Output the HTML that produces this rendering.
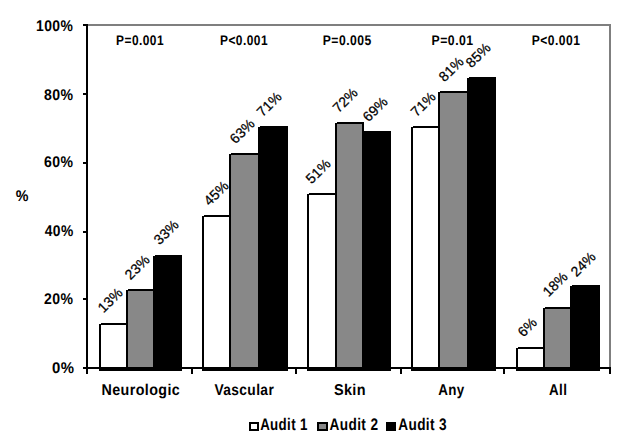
<!DOCTYPE html>
<html><head><meta charset="utf-8"><style>
html,body{margin:0;padding:0;background:#fff;}
body{width:625px;height:445px;position:relative;overflow:hidden;color:#000;}
</style></head><body>
<div style="position:absolute;left:86px;top:24px;width:525px;height:2px;background:#7f7f7f"></div>
<div style="position:absolute;left:609px;top:24px;width:2px;height:344px;background:#7f7f7f"></div>
<div style="position:absolute;left:99px;top:323px;width:29px;height:48px;box-sizing:border-box;border:2px solid #000;background:#ffffff"></div>
<div style="position:absolute;left:126px;top:289px;width:29px;height:82px;box-sizing:border-box;border:2px solid #000;background:#888888"></div>
<div style="position:absolute;left:153px;top:255px;width:29px;height:116px;box-sizing:border-box;border:2px solid #000;background:#000000"></div>
<div style="position:absolute;left:202px;top:215px;width:29px;height:156px;box-sizing:border-box;border:2px solid #000;background:#ffffff"></div>
<div style="position:absolute;left:229px;top:153px;width:31px;height:218px;box-sizing:border-box;border:2px solid #000;background:#888888"></div>
<div style="position:absolute;left:258px;top:126px;width:30px;height:245px;box-sizing:border-box;border:2px solid #000;background:#000000"></div>
<div style="position:absolute;left:307px;top:193px;width:30px;height:178px;box-sizing:border-box;border:2px solid #000;background:#ffffff"></div>
<div style="position:absolute;left:335px;top:122px;width:29px;height:249px;box-sizing:border-box;border:2px solid #000;background:#888888"></div>
<div style="position:absolute;left:362px;top:131px;width:29px;height:240px;box-sizing:border-box;border:2px solid #000;background:#000000"></div>
<div style="position:absolute;left:411px;top:126px;width:29px;height:245px;box-sizing:border-box;border:2px solid #000;background:#ffffff"></div>
<div style="position:absolute;left:438px;top:91px;width:31px;height:280px;box-sizing:border-box;border:2px solid #000;background:#888888"></div>
<div style="position:absolute;left:467px;top:77px;width:29px;height:294px;box-sizing:border-box;border:2px solid #000;background:#000000"></div>
<div style="position:absolute;left:516px;top:347px;width:29px;height:24px;box-sizing:border-box;border:2px solid #000;background:#ffffff"></div>
<div style="position:absolute;left:543px;top:307px;width:29px;height:64px;box-sizing:border-box;border:2px solid #000;background:#888888"></div>
<div style="position:absolute;left:570px;top:285px;width:30px;height:86px;box-sizing:border-box;border:2px solid #000;background:#000000"></div>
<div style="position:absolute;left:99px;top:323px;width:2px;height:1px;background:#fff"></div>
<div style="position:absolute;left:126px;top:289px;width:2px;height:1px;background:#fff"></div>
<div style="position:absolute;left:153px;top:255px;width:2px;height:1px;background:#fff"></div>
<div style="position:absolute;left:202px;top:215px;width:2px;height:1px;background:#fff"></div>
<div style="position:absolute;left:229px;top:153px;width:2px;height:1px;background:#fff"></div>
<div style="position:absolute;left:258px;top:126px;width:2px;height:1px;background:#fff"></div>
<div style="position:absolute;left:307px;top:193px;width:2px;height:1px;background:#fff"></div>
<div style="position:absolute;left:335px;top:122px;width:2px;height:1px;background:#fff"></div>
<div style="position:absolute;left:411px;top:126px;width:2px;height:1px;background:#fff"></div>
<div style="position:absolute;left:438px;top:91px;width:2px;height:1px;background:#fff"></div>
<div style="position:absolute;left:467px;top:77px;width:2px;height:1px;background:#fff"></div>
<div style="position:absolute;left:516px;top:347px;width:2px;height:1px;background:#fff"></div>
<div style="position:absolute;left:543px;top:307px;width:2px;height:1px;background:#fff"></div>
<div style="position:absolute;left:570px;top:285px;width:2px;height:1px;background:#fff"></div>
<div style="position:absolute;left:86px;top:24px;width:2px;height:345px;background:#000"></div>
<div style="position:absolute;left:86px;top:367px;width:525px;height:2px;background:#000"></div>
<div style="position:absolute;left:83px;top:24px;width:4px;height:2px;background:#000"></div>
<div style="position:absolute;left:83px;top:93px;width:4px;height:2px;background:#000"></div>
<div style="position:absolute;left:83px;top:162px;width:4px;height:2px;background:#000"></div>
<div style="position:absolute;left:83px;top:231px;width:4px;height:2px;background:#000"></div>
<div style="position:absolute;left:83px;top:298px;width:4px;height:2px;background:#000"></div>
<div style="position:absolute;left:83px;top:367px;width:4px;height:2px;background:#000"></div>
<div style="position:absolute;left:86px;top:367px;width:2px;height:7px;background:#000"></div>
<div style="position:absolute;left:191px;top:367px;width:2px;height:7px;background:#000"></div>
<div style="position:absolute;left:295px;top:367px;width:2px;height:7px;background:#000"></div>
<div style="position:absolute;left:400px;top:367px;width:2px;height:7px;background:#000"></div>
<div style="position:absolute;left:503px;top:367px;width:2px;height:7px;background:#000"></div>
<div style="position:absolute;left:609px;top:367px;width:2px;height:7px;background:#000"></div>
<div style="position:absolute;left:0;top:0;font-family:'Liberation Sans',sans-serif;font-weight:bold;font-size:14.1px;line-height:17px;white-space:pre;letter-spacing:0.4px;text-rendering:geometricPrecision;transform-origin:0 0;transform:matrix(0.9861,0,0,1.1000,36.01,16.70)">100%</div>
<div style="position:absolute;left:0;top:0;font-family:'Liberation Sans',sans-serif;font-weight:bold;font-size:14.1px;line-height:17px;white-space:pre;letter-spacing:0.4px;text-rendering:geometricPrecision;transform-origin:0 0;transform:matrix(1.0000,0,0,1.1000,44.00,85.70)">80%</div>
<div style="position:absolute;left:0;top:0;font-family:'Liberation Sans',sans-serif;font-weight:bold;font-size:14.1px;line-height:17px;white-space:pre;letter-spacing:0.4px;text-rendering:geometricPrecision;transform-origin:0 0;transform:matrix(0.9964,0,0,1.1000,44.10,152.70)">60%</div>
<div style="position:absolute;left:0;top:0;font-family:'Liberation Sans',sans-serif;font-weight:bold;font-size:14.1px;line-height:17px;white-space:pre;letter-spacing:0.4px;text-rendering:geometricPrecision;transform-origin:0 0;transform:matrix(0.9793,0,0,1.1000,44.80,221.70)">40%</div>
<div style="position:absolute;left:0;top:0;font-family:'Liberation Sans',sans-serif;font-weight:bold;font-size:14.1px;line-height:17px;white-space:pre;letter-spacing:0.4px;text-rendering:geometricPrecision;transform-origin:0 0;transform:matrix(0.9964,0,0,1.1000,44.10,289.70)">20%</div>
<div style="position:absolute;left:0;top:0;font-family:'Liberation Sans',sans-serif;font-weight:bold;font-size:14.1px;line-height:17px;white-space:pre;letter-spacing:0.4px;text-rendering:geometricPrecision;transform-origin:0 0;transform:matrix(1.0579,0,0,1.1000,52.04,358.70)">0%</div>
<div style="position:absolute;left:0;top:0;font-family:'Liberation Sans',sans-serif;font-weight:bold;font-size:14.1px;line-height:17px;white-space:pre;letter-spacing:0.4px;text-rendering:geometricPrecision;transform-origin:0 0;transform:matrix(1.0125,0,0,1.1000,15.85,186.70)">%</div>
<div style="position:absolute;left:0;top:0;font-family:'Liberation Sans',sans-serif;font-weight:bold;font-size:12.6px;line-height:15px;white-space:pre;letter-spacing:0.5px;text-rendering:geometricPrecision;transform-origin:0 0;transform:matrix(0.9449,0,0,1.1111,116.06,32.78)">P=0.001</div>
<div style="position:absolute;left:0;top:0;font-family:'Liberation Sans',sans-serif;font-weight:bold;font-size:12.6px;line-height:15px;white-space:pre;letter-spacing:0.5px;text-rendering:geometricPrecision;transform-origin:0 0;transform:matrix(0.9469,0,0,1.1111,219.95,32.78)">P&lt;0.001</div>
<div style="position:absolute;left:0;top:0;font-family:'Liberation Sans',sans-serif;font-weight:bold;font-size:12.6px;line-height:15px;white-space:pre;letter-spacing:0.5px;text-rendering:geometricPrecision;transform-origin:0 0;transform:matrix(0.9653,0,0,1.1111,322.73,32.78)">P=0.005</div>
<div style="position:absolute;left:0;top:0;font-family:'Liberation Sans',sans-serif;font-weight:bold;font-size:12.6px;line-height:15px;white-space:pre;letter-spacing:0.5px;text-rendering:geometricPrecision;transform-origin:0 0;transform:matrix(0.9732,0,0,1.1111,431.53,32.78)">P=0.01</div>
<div style="position:absolute;left:0;top:0;font-family:'Liberation Sans',sans-serif;font-weight:bold;font-size:12.6px;line-height:15px;white-space:pre;letter-spacing:0.5px;text-rendering:geometricPrecision;transform-origin:0 0;transform:matrix(0.9592,0,0,1.1111,531.64,32.78)">P&lt;0.001</div>
<div style="position:absolute;left:0;top:0;font-family:'Liberation Sans',sans-serif;font-weight:bold;font-size:14.2px;line-height:17px;white-space:pre;letter-spacing:0.4px;text-rendering:geometricPrecision;transform-origin:0 0;transform:matrix(1.0066,0,0,1.1000,101.49,381.80)">Neurologic</div>
<div style="position:absolute;left:0;top:0;font-family:'Liberation Sans',sans-serif;font-weight:bold;font-size:14.2px;line-height:17px;white-space:pre;letter-spacing:0.4px;text-rendering:geometricPrecision;transform-origin:0 0;transform:matrix(0.9705,0,0,1.1000,214.40,381.80)">Vascular</div>
<div style="position:absolute;left:0;top:0;font-family:'Liberation Sans',sans-serif;font-weight:bold;font-size:14.2px;line-height:17px;white-space:pre;letter-spacing:0.4px;text-rendering:geometricPrecision;transform-origin:0 0;transform:matrix(1.0172,0,0,1.1000,333.88,381.80)">Skin</div>
<div style="position:absolute;left:0;top:0;font-family:'Liberation Sans',sans-serif;font-weight:bold;font-size:14.2px;line-height:17px;white-space:pre;letter-spacing:0.4px;text-rendering:geometricPrecision;transform-origin:0 0;transform:matrix(0.9423,0,0,1.1000,438.26,381.80)">Any</div>
<div style="position:absolute;left:0;top:0;font-family:'Liberation Sans',sans-serif;font-weight:bold;font-size:14.2px;line-height:17px;white-space:pre;letter-spacing:0.4px;text-rendering:geometricPrecision;transform-origin:0 0;transform:matrix(0.9412,0,0,1.1000,549.06,381.80)">All</div>
<div style="position:absolute;left:0;top:0;font-family:'Liberation Sans',sans-serif;font-weight:bold;font-size:13.7px;line-height:16px;white-space:pre;letter-spacing:0.4px;text-rendering:geometricPrecision;transform-origin:0 0;transform:matrix(0.9708,0,0,1.2222,260.13,415.33)">Audit 1</div>
<div style="position:absolute;left:0;top:0;font-family:'Liberation Sans',sans-serif;font-weight:bold;font-size:13.7px;line-height:16px;white-space:pre;letter-spacing:0.4px;text-rendering:geometricPrecision;transform-origin:0 0;transform:matrix(0.9936,0,0,1.2222,329.51,415.33)">Audit 2</div>
<div style="position:absolute;left:0;top:0;font-family:'Liberation Sans',sans-serif;font-weight:bold;font-size:13.7px;line-height:16px;white-space:pre;letter-spacing:0.4px;text-rendering:geometricPrecision;transform-origin:0 0;transform:matrix(0.9936,0,0,1.2222,398.21,415.33)">Audit 3</div>
<div style="position:absolute;left:79.9px;top:290.4px;width:60px;height:20px;line-height:20px;text-align:center;font-family:'Liberation Sans',sans-serif;font-size:14.0px;transform:rotate(-45deg);white-space:nowrap;-webkit-text-stroke:0.25px #000">13%</div>
<div style="position:absolute;left:107.3px;top:257.4px;width:60px;height:20px;line-height:20px;text-align:center;font-family:'Liberation Sans',sans-serif;font-size:14.0px;transform:rotate(-45deg);white-space:nowrap;-webkit-text-stroke:0.25px #000">23%</div>
<div style="position:absolute;left:136.2px;top:222.1px;width:60px;height:20px;line-height:20px;text-align:center;font-family:'Liberation Sans',sans-serif;font-size:14.0px;transform:rotate(-45deg);white-space:nowrap;-webkit-text-stroke:0.25px #000">33%</div>
<div style="position:absolute;left:185.5px;top:182.5px;width:60px;height:20px;line-height:20px;text-align:center;font-family:'Liberation Sans',sans-serif;font-size:14.0px;transform:rotate(-45deg);white-space:nowrap;-webkit-text-stroke:0.25px #000">45%</div>
<div style="position:absolute;left:212.2px;top:121.0px;width:60px;height:20px;line-height:20px;text-align:center;font-family:'Liberation Sans',sans-serif;font-size:14.0px;transform:rotate(-45deg);white-space:nowrap;-webkit-text-stroke:0.25px #000">63%</div>
<div style="position:absolute;left:238.8px;top:93.5px;width:60px;height:20px;line-height:20px;text-align:center;font-family:'Liberation Sans',sans-serif;font-size:14.0px;transform:rotate(-45deg);white-space:nowrap;-webkit-text-stroke:0.25px #000">71%</div>
<div style="position:absolute;left:288.2px;top:160.9px;width:60px;height:20px;line-height:20px;text-align:center;font-family:'Liberation Sans',sans-serif;font-size:14.0px;transform:rotate(-45deg);white-space:nowrap;-webkit-text-stroke:0.25px #000">51%</div>
<div style="position:absolute;left:315.2px;top:89.9px;width:60px;height:20px;line-height:20px;text-align:center;font-family:'Liberation Sans',sans-serif;font-size:14.0px;transform:rotate(-45deg);white-space:nowrap;-webkit-text-stroke:0.25px #000">72%</div>
<div style="position:absolute;left:344.9px;top:98.9px;width:60px;height:20px;line-height:20px;text-align:center;font-family:'Liberation Sans',sans-serif;font-size:14.0px;transform:rotate(-45deg);white-space:nowrap;-webkit-text-stroke:0.25px #000">69%</div>
<div style="position:absolute;left:393.2px;top:93.6px;width:60px;height:20px;line-height:20px;text-align:center;font-family:'Liberation Sans',sans-serif;font-size:14.0px;transform:rotate(-45deg);white-space:nowrap;-webkit-text-stroke:0.25px #000">71%</div>
<div style="position:absolute;left:420.6px;top:59.0px;width:60px;height:20px;line-height:20px;text-align:center;font-family:'Liberation Sans',sans-serif;font-size:14.0px;transform:rotate(-45deg);white-space:nowrap;-webkit-text-stroke:0.25px #000">81%</div>
<div style="position:absolute;left:448.2px;top:44.9px;width:60px;height:20px;line-height:20px;text-align:center;font-family:'Liberation Sans',sans-serif;font-size:14.0px;transform:rotate(-45deg);white-space:nowrap;-webkit-text-stroke:0.25px #000">85%</div>
<div style="position:absolute;left:497.3px;top:317.4px;width:60px;height:20px;line-height:20px;text-align:center;font-family:'Liberation Sans',sans-serif;font-size:14.0px;transform:rotate(-45deg);white-space:nowrap;-webkit-text-stroke:0.25px #000">6%</div>
<div style="position:absolute;left:524.5px;top:274.4px;width:60px;height:20px;line-height:20px;text-align:center;font-family:'Liberation Sans',sans-serif;font-size:14.0px;transform:rotate(-45deg);white-space:nowrap;-webkit-text-stroke:0.25px #000">18%</div>
<div style="position:absolute;left:553.1px;top:253.6px;width:60px;height:20px;line-height:20px;text-align:center;font-family:'Liberation Sans',sans-serif;font-size:14.0px;transform:rotate(-45deg);white-space:nowrap;-webkit-text-stroke:0.25px #000">24%</div>
<div style="position:absolute;left:249px;top:422px;width:10px;height:9px;box-sizing:border-box;border:2px solid #000;background:#fff"></div>
<div style="position:absolute;left:317px;top:422px;width:11px;height:9px;box-sizing:border-box;border:2px solid #000;background:#888888"></div>
<div style="position:absolute;left:386px;top:422px;width:10px;height:9px;box-sizing:border-box;border:2px solid #000;background:#000"></div>
</body></html>
